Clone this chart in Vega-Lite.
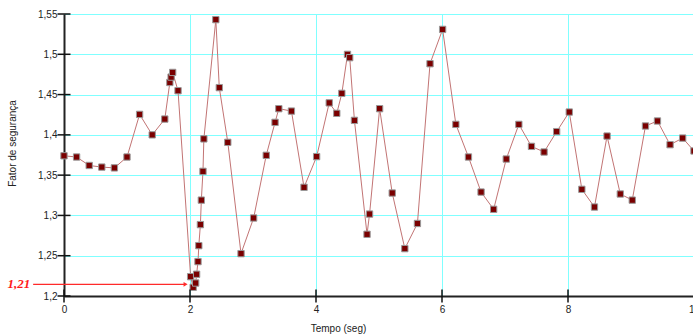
{
  "$schema": "https://vega.github.io/schema/vega-lite/v6.json",
  "width": 630,
  "height": 282,
  "autosize": {"type": "none"},
  "padding": {"left": 64, "top": 14, "right": 0, "bottom": 40},
  "background": "white",
  "config": {"view": {"stroke": null}, "font": "Liberation Sans"},
  "datasets": {
    "fs": [
      {"t": 0, "v": 1.374}, {"t": 0.2, "v": 1.3725}, {"t": 0.4, "v": 1.362}, {"t": 0.6, "v": 1.36},
      {"t": 0.8, "v": 1.359}, {"t": 1.0, "v": 1.3725}, {"t": 1.2, "v": 1.4254}, {"t": 1.4, "v": 1.4},
      {"t": 1.6, "v": 1.4196}, {"t": 1.68, "v": 1.465}, {"t": 1.7, "v": 1.4717}, {"t": 1.725, "v": 1.4775},
      {"t": 1.81, "v": 1.4548}, {"t": 2.01, "v": 1.224}, {"t": 2.05, "v": 1.2108}, {"t": 2.09, "v": 1.2161},
      {"t": 2.105, "v": 1.227}, {"t": 2.127, "v": 1.2427}, {"t": 2.14, "v": 1.2625}, {"t": 2.165, "v": 1.2886},
      {"t": 2.18, "v": 1.319}, {"t": 2.206, "v": 1.3547}, {"t": 2.22, "v": 1.395}, {"t": 2.41, "v": 1.543},
      {"t": 2.465, "v": 1.4586}, {"t": 2.6, "v": 1.3907}, {"t": 2.81, "v": 1.2526}, {"t": 3.01, "v": 1.2968},
      {"t": 3.21, "v": 1.3746}, {"t": 3.35, "v": 1.4155}, {"t": 3.41, "v": 1.4325}, {"t": 3.61, "v": 1.4295},
      {"t": 3.81, "v": 1.3349}, {"t": 4.01, "v": 1.373}, {"t": 4.21, "v": 1.4397}, {"t": 4.33, "v": 1.4267},
      {"t": 4.41, "v": 1.4515}, {"t": 4.5, "v": 1.4999}, {"t": 4.535, "v": 1.4958}, {"t": 4.61, "v": 1.418},
      {"t": 4.81, "v": 1.2766}, {"t": 4.85, "v": 1.3017}, {"t": 5.01, "v": 1.4325}, {"t": 5.21, "v": 1.3278},
      {"t": 5.41, "v": 1.2588}, {"t": 5.61, "v": 1.29}, {"t": 5.81, "v": 1.4883}, {"t": 6.01, "v": 1.5309},
      {"t": 6.22, "v": 1.413}, {"t": 6.42, "v": 1.3725}, {"t": 6.62, "v": 1.329}, {"t": 6.82, "v": 1.3076},
      {"t": 7.02, "v": 1.37}, {"t": 7.22, "v": 1.413}, {"t": 7.42, "v": 1.3857}, {"t": 7.62, "v": 1.3787},
      {"t": 7.82, "v": 1.404}, {"t": 8.02, "v": 1.4283}, {"t": 8.22, "v": 1.3324}, {"t": 8.42, "v": 1.3104},
      {"t": 8.62, "v": 1.3985}, {"t": 8.83, "v": 1.3266}, {"t": 9.02, "v": 1.319}, {"t": 9.23, "v": 1.411},
      {"t": 9.42, "v": 1.4172}, {"t": 9.62, "v": 1.3878}, {"t": 9.82, "v": 1.396}, {"t": 10.0, "v": 1.38}
    ],
    "ann": [{"t0": -0.49, "t1": 1.93, "v": 1.2145, "label": "1,21"}],
    "xt": [{"t": 0}, {"t": 2}, {"t": 4}, {"t": 6}, {"t": 8}, {"t": 10}],
    "yt": [{"v": 1.2}, {"v": 1.25}, {"v": 1.3}, {"v": 1.35}, {"v": 1.4}, {"v": 1.45}, {"v": 1.5}, {"v": 1.55}]
  },
  "layer": [
    {
      "data": {"name": "fs"},
      "mark": {"type": "line", "color": "#c27474", "strokeWidth": 1, "clip": false},
      "encoding": {
        "x": {
          "field": "t", "type": "quantitative",
          "scale": {"domain": [0, 10], "nice": false, "zero": false},
          "axis": {
            "values": [0, 2, 4, 6, 8, 10],
            "labelExpr": "replace(format(datum.value, '~g'), '.', ',')",
            "labelFontSize": 10, "labelColor": "#222", "labelPadding": 8, "labelFlush": false, "labelOverlap": false,
            "ticks": false, "domain": true, "domainColor": "#222", "domainWidth": 2,
            "grid": true, "gridColor": "#80ffff", "gridWidth": 1,
            "title": "Tempo (seg)", "titleFontSize": 10, "titleFontWeight": "normal", "titleColor": "#222",
            "titleX": 274, "titleY": 32, "titleBaseline": "middle", "titleAlign": "center"
          }
        },
        "y": {
          "field": "v", "type": "quantitative",
          "scale": {"domain": [1.2, 1.55], "nice": false, "zero": false},
          "axis": {
            "values": [1.2, 1.25, 1.3, 1.35, 1.4, 1.45, 1.5, 1.55],
            "labelExpr": "replace(format(datum.value, '.2~f'), '.', ',')",
            "labelFontSize": 10, "labelColor": "#222", "labelPadding": 7, "labelFlush": false, "labelOverlap": false,
            "ticks": false, "domain": true, "domainColor": "#222", "domainWidth": 2,
            "grid": true, "gridColor": "#80ffff", "gridWidth": 1,
            "title": "Fator de segurança", "titleFontSize": 10, "titleFontWeight": "normal", "titleColor": "#222",
            "titleAngle": -90, "titleX": -52, "titleY": 129, "titleBaseline": "middle", "titleAlign": "center"
          }
        },
        "order": {"field": "t", "type": "quantitative"}
      }
    },
    {
      "data": {"name": "fs"},
      "mark": {"type": "square", "size": 40, "filled": true, "fill": "#7a0000", "stroke": "#999999", "strokeWidth": 1, "opacity": 1},
      "encoding": {
        "x": {"field": "t", "type": "quantitative"},
        "y": {"field": "v", "type": "quantitative"}
      }
    },
    {
      "data": {"name": "ann"},
      "mark": {"type": "rule", "color": "#ff2a2a", "strokeWidth": 1.2},
      "encoding": {
        "x": {"field": "t0", "type": "quantitative"},
        "x2": {"field": "t1"},
        "y": {"field": "v", "type": "quantitative"}
      }
    },
    {
      "data": {"name": "ann"},
      "mark": {"type": "point", "shape": "triangle-right", "filled": true, "size": 22, "color": "#ff2a2a", "opacity": 1},
      "encoding": {
        "x": {"field": "t1", "type": "quantitative"},
        "y": {"field": "v", "type": "quantitative"}
      }
    },
    {
      "data": {"name": "ann"},
      "mark": {"type": "text", "align": "right", "baseline": "middle", "font": "Liberation Serif", "fontStyle": "italic", "fontWeight": "bold", "fontSize": 13, "color": "#ff1a1a", "dx": -3},
      "encoding": {
        "x": {"field": "t0", "type": "quantitative"},
        "y": {"field": "v", "type": "quantitative"},
        "text": {"field": "label"}
      }
    },
    {
      "data": {"name": "xt"},
      "mark": {"type": "tick", "orient": "vertical", "size": 13, "thickness": 1.5, "color": "#111", "opacity": 1},
      "encoding": {
        "x": {"field": "t", "type": "quantitative"},
        "y": {"datum": 1.2, "type": "quantitative"}
      }
    },
    {
      "data": {"name": "yt"},
      "mark": {"type": "tick", "orient": "horizontal", "size": 13, "thickness": 1.5, "color": "#111", "opacity": 1},
      "encoding": {
        "x": {"datum": 0, "type": "quantitative"},
        "y": {"field": "v", "type": "quantitative"}
      }
    }
  ]
}
